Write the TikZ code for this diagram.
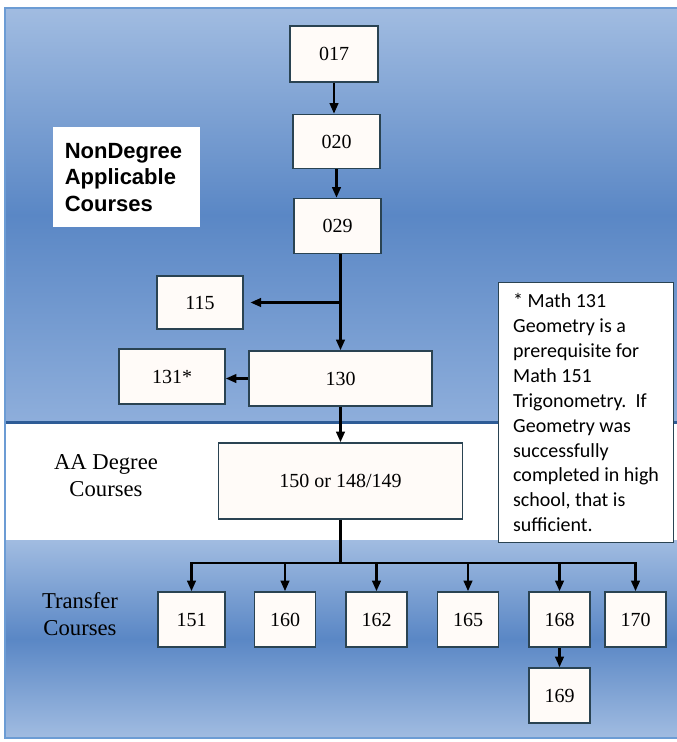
\documentclass[tikz,border=0pt]{standalone}
\usepackage{fontspec}
\setmainfont{Liberation Serif}
\newfontfamily\noteFont{Carlito}
\newfontfamily\headFont{Liberation Sans}
\usetikzlibrary{arrows.meta, calc, math}

\definecolor{bgLight}{HTML}{A1BCE1}
\definecolor{bgDark}{HTML}{5A87C5}
\definecolor{bgLow}{HTML}{8EAEDB}
\definecolor{sepBlue}{HTML}{2E5C96}
\definecolor{frameBlue}{HTML}{6C9CD4}
\definecolor{boxLine}{HTML}{2A4352}
\definecolor{boxFill}{HTML}{FFFBF8}

\begin{document}
\begin{tikzpicture}[x=0.75pt, y=-0.75pt, >={Triangle[length=8pt,width=6.5pt]}]
			\tikzmath{
				\boxH        = 41.25;   %box height (pt)
				\boxW        = 45.75;   %transfer box width (pt)
			}
			\tikzstyle{Node} = [
				minimum width=\boxW pt,
				minimum height=\boxH pt,
				inner sep=0pt,
				text centered,
				draw=boxLine,
				line width=1.2pt,
				fill=boxFill,
				font=\fontsize{15}{18}\selectfont
			]
			\tikzstyle{Link} = [line width=1.7pt]
			\useasboundingbox (0,0) rectangle (676,742);

			% background bands
			\shade [top color=bgLight, bottom color=bgLow, middle color=bgDark] (5,8) rectangle (680,422);
			\fill [white] (5,422) rectangle (680,540);
			\shade [top color=bgLight, bottom color=bgLight, middle color=bgDark] (5,540) rectangle (680,738);
			\draw [sepBlue, line width=2.2pt] (5,422.5) -- (680,422.5);
			\draw [frameBlue, line width=0.8pt] (5,8) rectangle (680,738);

			% side labels
			\node (nondeg) [anchor=north west, fill=white, minimum width=110.25pt, minimum height=75pt,
				text width=93pt, inner xsep=8.6pt, align=left,
				font=\headFont\bfseries\fontsize{16.5}{20}\selectfont] at (53,127) {NonDegree\\Applicable\\Courses};
			\node (aa) [align=center, font=\fontsize{17}{20.25}\selectfont] at (106,476) {AA Degree\\Courses};
			\node (transfer) [align=center, font=\fontsize{17}{20.25}\selectfont] at (80,614) {Transfer\\Courses};

			% footnote
			\node (note) [anchor=north west, draw=boxLine, fill=white, line width=0.9pt,
				minimum width=131.25pt, minimum height=195pt,
				align=left, font=\noteFont\fontsize{15}{18.7}\selectfont] at (498,282)
				{* Math 131\\Geometry is a\\prerequisite for\\Math 151\\Trigonometry.\ \ If\\Geometry was\\successfully\\completed in high\\school, that is\\sufficient.};

			% course boxes
			\node (017) [Node, minimum width=66pt, minimum height=42pt] at (334,54) {017};
			\node (020) [Node, minimum width=65.25pt, minimum height=40.5pt] at (336.5,141.5) {020};
			\node (029) [Node, minimum width=65.25pt] at (337.5,226) {029};
			\node (115) [Node, minimum width=64.5pt, minimum height=39.75pt] at (200,302.5) {115};
			\node (130) [Node, minimum width=137.25pt] at (340.5,378.5) {130};
			\node (131) [Node, minimum width=79.5pt] at (172,376.5) {131*};
			\node (150) [Node, minimum width=183pt, minimum height=57pt] at (340.5,481) {150 or 148/149};
			\node (151) [Node, minimum width=50.25pt] at (191.5,619.5) {151};
			\node (160) [Node] at (285,619.5) {160};
			\node (162) [Node] at (376.5,619.5) {162};
			\node (165) [Node] at (468,619.5) {165};
			\node (168) [Node] at (559.5,619.5) {168};
			\node (170) [Node] at (635.5,619.5) {170};
			\node (169) [Node] at (559.5,695.5) {169};

			\coordinate (bus) at ($(150.south) + (0,43)$);

			\draw [->, Link] (017.south) -- (017.south |- 020.north);
			\draw [->, Link] (020.south) -- (020.south |- 029.north);
			\draw [->, Link] (029.south -| 130.north) -- (130.north);
			\draw [->, Link, shorten >=5pt] (130.north |- 115.east) -- (115.east);
			\draw [->, Link] (130.west) -- (130.west -| 131.east);
			\draw [->, Link] (130.south) -- (150.north);
			\draw [Link] (150.south) -- (bus);
			\draw [<->, Link] (151.north) |- (bus -| 170.north) -- (170.north);
			\foreach \n in {160,162,165,168}
				\draw [->, Link] (bus -| \n.north) -- (\n.north);
			\draw [->, Link] (168.south) -- (169.north);
		\end{tikzpicture}
\end{document}
